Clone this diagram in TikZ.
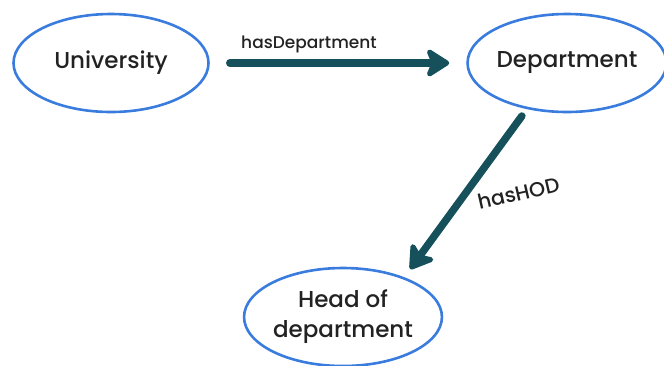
\documentclass[tikz,border=0pt]{standalone}
\usepackage{fontspec}
\setmainfont{Poppins}[UprightFont=* Medium]
\usetikzlibrary{arrows.meta,shapes.geometric}
\definecolor{ringblue}{RGB}{58,124,222}
\definecolor{linkteal}{RGB}{22,80,91}
\definecolor{inkdark}{RGB}{34,34,34}
\begin{document}
\begin{tikzpicture}[x=1pt,y=-1pt,
  entity/.style={ellipse, draw=ringblue, line width=2.6pt, text=inkdark,
    minimum width=195pt, minimum height=98pt, inner sep=0pt,
    font=\fontsize{23}{30}\selectfont, align=center},
  link/.style={draw=linkteal, line width=7.5pt, line cap=round,
    -{Stealth[length=27pt,width=34pt,inset=7pt,round]}},
  linklabel/.style={text=inkdark, inner sep=0pt}]
\useasboundingbox (0,0) rectangle (664,365);
\node[entity] (uni) at (111,63) {University};
\node[entity] (dept) at (567,63) {Department};
\node[entity, minimum width=196pt] (head) at (343,317) {Head of\\department};
\draw[link, shorten <=20pt, shorten >=17pt] (uni) -- (dept)
  node[linklabel, font=\fontsize{17}{20}\selectfont, midway, xshift=-29pt, yshift=19pt] {hasDepartment};
\draw[link, shorten <=8.5pt, shorten >=10pt] (dept.-131) -- (head.33)
  node[linklabel, font=\fontsize{20.5}{24}\selectfont, midway, xshift=53pt, rotate=13] {hasHOD};
\end{tikzpicture}
\end{document}
